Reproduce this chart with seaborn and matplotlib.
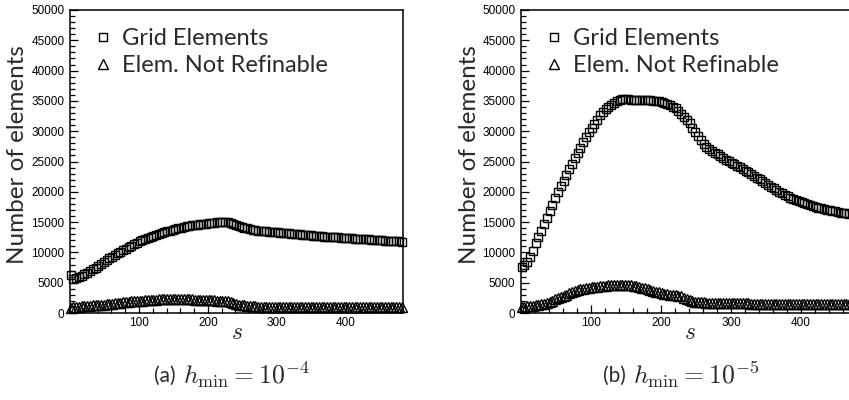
import numpy as np
import pandas as pd
import matplotlib
matplotlib.use("Agg")
import matplotlib.pyplot as plt
from matplotlib.ticker import MultipleLocator, FixedLocator
import seaborn as sns

sns.set_style("ticks")
plt.rcParams["mathtext.fontset"] = "cm"
plt.rcParams["font.family"] = ["Liberation Sans", "DejaVu Sans"]

# iteration index s (every 4th step)
s = np.arange(1, 482, 4)

# h_min = 1e-4
grid_a = [6200, 5600, 5700, 5900, 6100, 6400, 6650, 6950, 7200, 7500,
          7800, 8100, 8400, 8700, 9000, 9300, 9550, 9850, 10100, 10400,
          10600, 10850, 11100, 11350, 11550, 11800, 12000, 12200, 12400, 12550,
          12700, 12850, 13000, 13150, 13300, 13450, 13600, 13750, 13850, 14000,
          14100, 14200, 14300, 14350, 14450, 14500, 14600, 14650, 14700, 14750,
          14800, 14850, 14900, 14950, 14980, 15000, 15050, 15000, 14800, 14650,
          14500, 14300, 14150, 14050, 13950, 13850, 13750, 13650, 13600, 13550,
          13500, 13450, 13420, 13390, 13350, 13300, 13260, 13220, 13180, 13140,
          13100, 13060, 13020, 12980, 12940, 12900, 12860, 12820, 12780, 12740,
          12700, 12660, 12620, 12590, 12560, 12530, 12500, 12470, 12440, 12410,
          12380, 12350, 12320, 12290, 12260, 12230, 12200, 12170, 12140, 12110,
          12080, 12050, 12020, 11990, 11960, 11930, 11900, 11870, 11840, 11810,
          11780]
notref_a = [900, 950, 1000, 1050, 1100, 1150, 1150, 1200, 1250, 1300,
            1300, 1350, 1400, 1450, 1500, 1550, 1600, 1650, 1700, 1750,
            1800, 1850, 1900, 1950, 1950, 2000, 2050, 2100, 2100, 2150,
            2200, 2200, 2250, 2250, 2250, 2300, 2300, 2300, 2300, 2300,
            2300, 2300, 2250, 2250, 2250, 2200, 2200, 2150, 2150, 2150,
            2100, 2100, 2100, 2050, 2050, 2000, 2000, 1900, 1750, 1600,
            1450, 1350, 1300, 1250, 1200, 1150, 1100, 1100, 1050, 1050,
            1050, 1050, 1000, 1000, 1000, 1000, 1000, 1000, 1000, 1000,
            1000, 1000, 1000, 1000, 1000, 1000, 1000, 1000, 1000, 1000,
            1000, 1000, 1000, 1000, 1000, 1000, 1000, 1000, 1000, 1000,
            1000, 1000, 1000, 1000, 1000, 1000, 1000, 1000, 1000, 1000,
            1000, 1000, 1000, 1000, 1000, 1000, 1000, 1000, 1000, 1000,
            1000]

# h_min = 1e-5
grid_b = [7600, 7900, 8400, 9300, 10300, 11500, 12500, 13600, 14700, 15700,
          16800, 17900, 18900, 19900, 20900, 21800, 22800, 23700, 24600, 25500,
          26400, 27300, 28200, 29100, 29800, 30500, 31200, 31900, 32600, 33200,
          33600, 34000, 34400, 34700, 34950, 35100, 35250, 35300, 35300, 35200,
          35150, 35150, 35150, 35150, 35150, 35100, 35100, 35050, 35000, 34950,
          34850, 34700, 34550, 34300, 34050, 33800, 33400, 32900, 32400, 31800,
          31300, 30600, 29900, 29200, 28500, 27900, 27400, 27000, 26700, 26450,
          26200, 25900, 25550, 25300, 25050, 24800, 24550, 24300, 24050, 23800,
          23500, 23200, 22900, 22650, 22350, 22050, 21750, 21450, 21150, 20850,
          20550, 20250, 20000, 19750, 19500, 19250, 19050, 18850, 18650, 18450,
          18250, 18100, 17950, 17800, 17650, 17500, 17350, 17250, 17150, 17050,
          16950, 16850, 16750, 16650, 16550, 16480, 16420, 16360, 16300, 16250,
          16200]
notref_b = [1000, 1050, 1100, 1150, 1200, 1250, 1350, 1450, 1550, 1700,
            1850, 2050, 2250, 2450, 2650, 2850, 3050, 3250, 3450, 3600,
            3750, 3900, 4000, 4100, 4150, 4250, 4300, 4350, 4400, 4450,
            4500, 4550, 4600, 4600, 4650, 4650, 4650, 4650, 4600, 4550,
            4450, 4400, 4300, 4150, 4050, 3900, 3750, 3600, 3500, 3400,
            3300, 3200, 3150, 3050, 3000, 2900, 2850, 2750, 2550, 2300,
            2100, 1950, 1850, 1800, 1750, 1750, 1700, 1700, 1650, 1650,
            1650, 1650, 1600, 1600, 1600, 1600, 1600, 1590, 1580, 1580,
            1570, 1570, 1560, 1560, 1550, 1550, 1540, 1540, 1530, 1530,
            1520, 1520, 1510, 1510, 1500, 1500, 1500, 1500, 1500, 1500,
            1500, 1500, 1500, 1500, 1500, 1500, 1500, 1500, 1500, 1500,
            1500, 1500, 1500, 1500, 1500, 1500, 1500, 1500, 1500, 1500,
            1500]

series_labels = ["Grid Elements", "Elem. Not Refinable"]
tags = ["(a)", "(b)"]
captions = [r"$h_{\min} = 10^{-4}$", r"$h_{\min} = 10^{-5}$"]
ylabel = "Number of elements"
xticks = [100, 200, 300, 400]

W, H = 849, 400
fig = plt.figure(figsize=(W / 100, H / 100), dpi=100)

# axes rectangles in pixels: left, top, width, height
rects = [(70, 10, 333, 303), (521, 10, 338, 303)]
panels = [(grid_a, notref_a), (grid_b, notref_b)]
tag_x = [178, 628]
ylabel_x = [28, 480]
sans = ["Lato", "DejaVu Sans"]
txt_color = "#2a2a2a"
mk = dict(linestyle="none", markerfacecolor="none", markeredgecolor="black",
          markeredgewidth=1.0, clip_on=False)

for i, ((px, py, pw, ph), (g, n)) in enumerate(zip(rects, panels)):
    ax = fig.add_axes([px / W, 1 - (py + ph) / H, pw / W, ph / H])
    df = pd.DataFrame({"s": s, "grid": g, "notref": n})
    sns.lineplot(data=df, x="s", y="grid", ax=ax, marker="s", markersize=5.6,
                 label=series_labels[0], **mk)
    sns.lineplot(data=df, x="s", y="notref", ax=ax, marker="^", markersize=6.6,
                 label=series_labels[1], **mk)
    ax.set_xlim(0, 483)
    ax.set_ylim(0, 50000)
    ax.xaxis.set_major_locator(FixedLocator(xticks))
    ax.xaxis.set_minor_locator(MultipleLocator(20))
    ax.yaxis.set_major_locator(MultipleLocator(5000))
    ax.yaxis.set_minor_locator(MultipleLocator(1000))
    ax.tick_params(which="both", direction="in", top=False, right=False,
                   width=0.9, colors="black", labelsize=8.5)
    ax.tick_params(which="major", length=6, pad=4)
    ax.tick_params(which="minor", length=3.5)
    ax.tick_params(axis="x", which="major", pad=3)
    for sp in ax.spines.values():
        sp.set_linewidth(1.1)
        sp.set_color("black")
    ax.set_xlabel(r"$s$", fontsize=17, labelpad=-5)
    ax.set_ylabel(ylabel, fontsize=17.5, family=sans, color=txt_color)
    ax.yaxis.set_label_coords((ylabel_x[i] - px) / pw, 0.523)
    leg = ax.legend(loc="upper left", bbox_to_anchor=(27 / pw, 0.94),
                    frameon=False, handlelength=0.55, handletextpad=0.5,
                    labelspacing=0.25, borderpad=0, borderaxespad=0,
                    prop={"family": sans, "size": 17})
    for t in leg.get_texts():
        t.set_color(txt_color)
    fig.text((tag_x[i] - 2) / W, 1 - 376 / H, tags[i], ha="right", va="center",
             fontsize=15, color=txt_color, family=sans)
    fig.text((tag_x[i] + 5) / W, 1 - 375 / H, captions[i], ha="left",
             va="center", fontsize=18.5, color=txt_color)

fig.savefig("out.png", dpi=100)
